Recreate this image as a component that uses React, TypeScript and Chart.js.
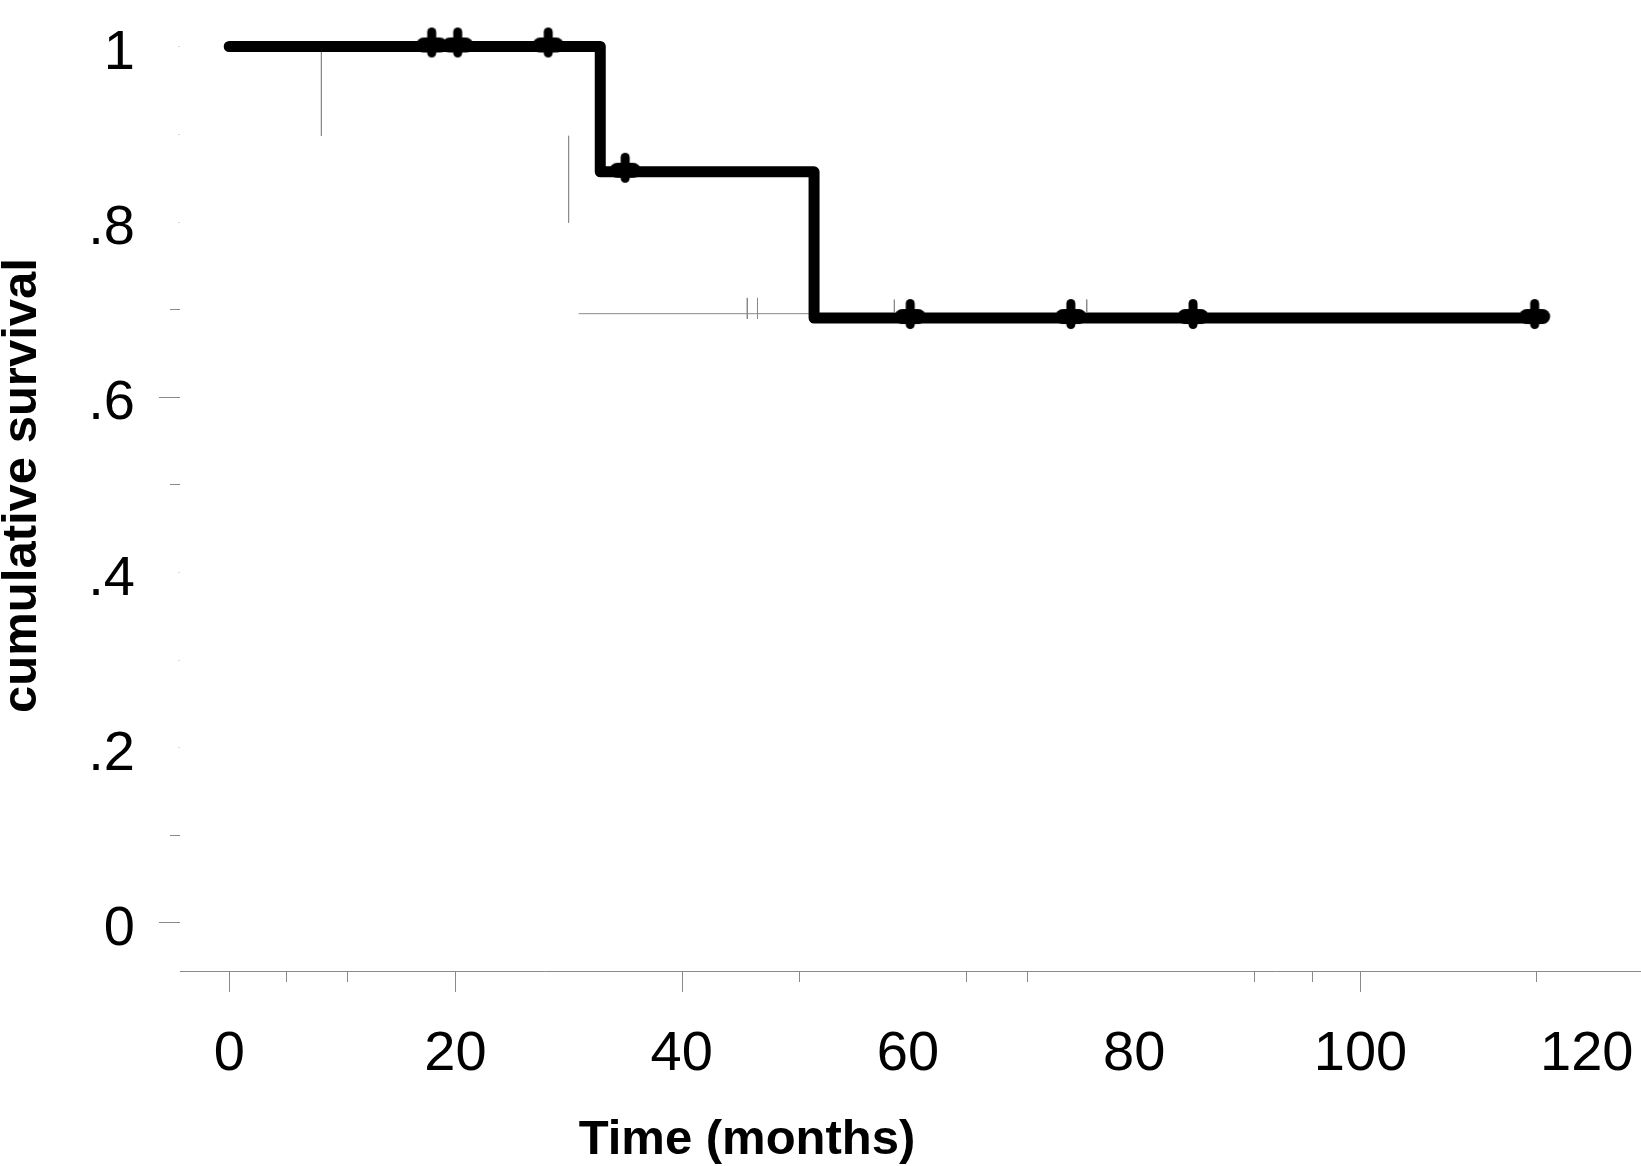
import React, { useEffect, useRef } from "react";
import { Chart, registerables } from "chart.js";

Chart.register(...registerables);

// ---- data ----
const stepTimes = [0, 32.8, 51.7, 115.5];
const stepSurvival = [1, 0.857, 0.69, 0.69];

const censorTimes = [17.9, 20.2, 28.2, 35.0, 60.2, 74.4, 85.2, 115.4];
const censorSurvival = [1, 1, 1, 0.857, 0.69, 0.69, 0.69, 0.69];

// faint grey guide strokes visible in the reference: [x1, y1, x2, y2]
const guideSegments = [
  [8.15, 1.0, 8.15, 0.898],
  [30.0, 0.898, 30.0, 0.799],
  [30.9, 0.695, 51.7, 0.695],
  [45.8, 0.713, 45.8, 0.689],
  [46.7, 0.713, 46.7, 0.689],
  [58.8, 0.711, 58.8, 0.697],
  [75.8, 0.711, 75.8, 0.697],
];

const xTickValues = [0, 20, 40, 60, 80, 100, 120];
const xTickLabels = ["0", "20", "40", "60", "80", "100", "120"];
const xMajorTickMarks = [0, 20, 40, 100];
const xMinorTickMarks = [5, 10.4, 50.4, 65.1, 70.5, 90.6, 95.7, 115.5];

const yTickValues = [0, 0.2, 0.4, 0.6, 0.8, 1];
const yTickLabels = ["0", ".2", ".4", ".6", ".8", "1"];
const yMajorTickMarks = [0, 0.6];
const yMinorTickMarks = [0.1, 0.5, 0.7];
const yFaintTickMarks = [0.2, 0.3, 0.4, 0.8, 0.9, 1];

const xTitle = "Time (months)";
const yTitle = "cumulative survival";

const FONT = '"Liberation Sans", Arial, Helvetica, sans-serif';

function makeCensorMark(): HTMLCanvasElement {
  const c = document.createElement("canvas");
  c.width = 40;
  c.height = 40;
  const g = c.getContext("2d")!;
  g.strokeStyle = "#000";
  g.lineCap = "round";
  // vertical bar
  g.lineWidth = 9;
  g.beginPath();
  g.moveTo(20, 20 - 4 - 10.5);
  g.lineTo(20, 20 - 4 + 10.5);
  g.stroke();
  // horizontal blob
  g.lineWidth = 15;
  g.beginPath();
  g.moveTo(20 - 8, 20 - 1.5);
  g.lineTo(20 + 8, 20 - 1.5);
  g.stroke();
  return c;
}

const zeroPad = (s: any) => {
  s.paddingTop = 0;
  s.paddingBottom = 0;
  s.paddingLeft = 0;
  s.paddingRight = 0;
};

const decorPlugin = {
  id: "kmDecor",
  afterDraw(chart: any) {
    const { ctx } = chart;
    const x = chart.scales.x;
    const y = chart.scales.y;
    ctx.save();
    ctx.lineWidth = 1;
    const line = (x1: number, y1: number, x2: number, y2: number) => {
      ctx.beginPath();
      ctx.moveTo(x1, y1);
      ctx.lineTo(x2, y2);
      ctx.stroke();
    };
    ctx.strokeStyle = "#8a8a8a";
    const ax = x.top;
    for (const v of xMajorTickMarks) {
      const px = Math.round(x.getPixelForValue(v)) + 0.5;
      line(px, ax, px, ax + 21);
    }
    for (const v of xMinorTickMarks) {
      const px = Math.round(x.getPixelForValue(v)) + 0.5;
      line(px, ax, px, ax + 11);
    }
    const yr = y.right;
    for (const v of yMajorTickMarks) {
      const py = Math.round(y.getPixelForValue(v)) + 0.5;
      line(yr - 21, py, yr, py);
    }
    for (const v of yMinorTickMarks) {
      const py = Math.round(y.getPixelForValue(v)) + 0.5;
      line(yr - 10, py, yr, py);
    }
    ctx.strokeStyle = "#d8d8d8";
    for (const v of yFaintTickMarks) {
      const py = Math.round(y.getPixelForValue(v)) + 0.5;
      line(yr - 2, py, yr, py);
    }
    // x axis title
    ctx.fillStyle = "#000";
    ctx.font = `bold 49px ${FONT}`;
    ctx.textAlign = "center";
    ctx.textBaseline = "alphabetic";
    ctx.fillText(xTitle, 747, 1154);
    ctx.restore();
  },
};

export default function App() {
  const ref = useRef<HTMLCanvasElement | null>(null);

  useEffect(() => {
    const canvas = ref.current;
    if (!canvas) return;
    const mark = makeCensorMark();

    const guideDatasets = guideSegments.map((s) => ({
      label: "guide",
      data: [
        { x: s[0], y: s[1] },
        { x: s[2], y: s[3] },
      ],
      borderColor: "#8a8a8a",
      borderWidth: 1,
      pointRadius: 0,
      fill: false,
      tension: 0,
    }));

    const chart = new Chart(canvas, {
      type: "line",
      data: {
        datasets: [
          {
            label: "censored",
            data: censorTimes.map((t, i) => ({ x: t, y: censorSurvival[i] })),
            showLine: false,
            pointStyle: mark as any,
            pointRadius: 15,
            pointBorderWidth: 0,
          },
          {
            label: "survival",
            data: stepTimes.map((t, i) => ({ x: t, y: stepSurvival[i] })),
            stepped: "before",
            borderColor: "#000",
            borderWidth: 11,
            borderCapStyle: "round",
            borderJoinStyle: "round",
            pointRadius: 0,
            fill: false,
          },
          ...guideDatasets,
        ] as any,
      },
      options: {
        responsive: false,
        animation: false,
        events: [],
        layout: { padding: 0, autoPadding: false },
        plugins: {
          legend: { display: false },
          tooltip: { enabled: false },
        },
        scales: {
          x: {
            type: "linear",
            min: -4.35,
            max: 124.8,
            afterFit: (s: any) => {
              s.height = 195;
              zeroPad(s);
            },
            afterBuildTicks: (s: any) => {
              s.ticks = xTickValues.map((v) => ({ value: v }));
            },
            grid: { display: false, drawTicks: false },
            border: { display: true, color: "#8a8a8a", width: 1 },
            ticks: {
              autoSkip: false,
              maxRotation: 0,
              padding: 56,
              color: "#000",
              font: { family: FONT, size: 56, lineHeight: 1 },
              callback: (_v: any, i: number) => xTickLabels[i],
            },
          },
          y: {
            type: "linear",
            min: -0.05537,
            max: 1.05308,
            afterFit: (s: any) => {
              s.width = 180;
              zeroPad(s);
            },
            afterBuildTicks: (s: any) => {
              s.ticks = yTickValues.map((v) => ({ value: v }));
            },
            grid: { display: false, drawTicks: false },
            border: { display: false },
            ticks: {
              autoSkip: false,
              padding: 45,
              labelOffset: 7,
              color: "#000",
              font: { family: FONT, size: 56, lineHeight: 1 },
              callback: (_v: any, i: number) => yTickLabels[i],
            },
            title: {
              display: true,
              text: yTitle,
              color: "#000",
              padding: 0,
              font: { family: FONT, size: 49, weight: "bold", lineHeight: 0.9 },
            },
          },
        },
      } as any,
      plugins: [decorPlugin],
    });

    return () => chart.destroy();
  }, []);

  return (
    <div style={{ position: "fixed", left: 0, top: 0, width: 1641, height: 1166, background: "#fff" }}>
      <canvas ref={ref} width={1641} height={1166} style={{ display: "block", width: 1641, height: 1166 }} />
    </div>
  );
}
